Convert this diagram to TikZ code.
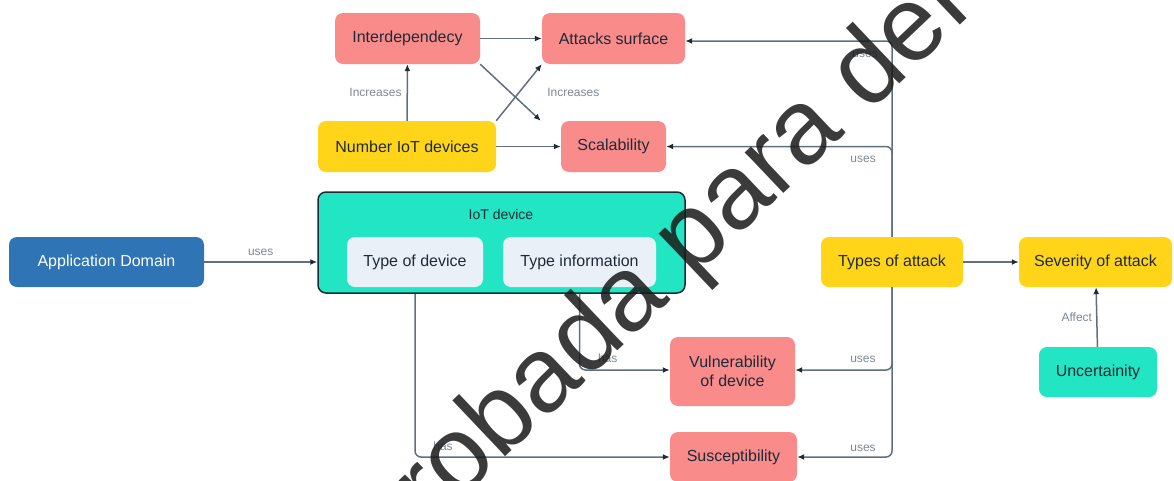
\documentclass[tikz,border=0pt]{standalone}
\usepackage{fontspec}
\setmainfont{Liberation Sans}
\usetikzlibrary{arrows.meta,calc}

\definecolor{boxred}{HTML}{F98B8B}
\definecolor{boxyellow}{HTML}{FFD419}
\definecolor{boxteal}{HTML}{22E5C4}
\definecolor{boxblue}{HTML}{2F74B5}
\definecolor{boxlight}{HTML}{EAF0F8}
\definecolor{ink}{HTML}{1E2B37}
\definecolor{linec}{HTML}{5F6F7F}
\definecolor{lblc}{HTML}{7D8893}

\tikzset{
  box/.style={rounded corners=8pt, inner sep=0pt, text=ink, align=center,
    font=\fontsize{16}{19}\selectfont},
  redbox/.style={box, fill=boxred},
  yellowbox/.style={box, fill=boxyellow},
  tealbox/.style={box, fill=boxteal},
  lightbox/.style={box, fill=boxlight},
  bluebox/.style={box, fill=boxblue, text=white!92!boxlight},
  conn/.style={draw=linec, line width=1.5pt,
    -{Latex[length=7pt,width=6pt,color=ink]}},
  elbow/.style={conn, rounded corners=6pt},
  lbl/.style={text=lblc, font=\fontsize{12}{14}\selectfont, inner sep=2pt},
  stamp/.style={text=black!90, opacity=0.85, font=\fontsize{106}{120}\selectfont,
    inner sep=0pt, anchor=base west, rotate=43.5}
}

\begin{document}
\begin{tikzpicture}[x=1pt, y=-1pt]
\useasboundingbox (0,0) rectangle (1174,480);

% IoT device container with its two parts
\node[tealbox, draw=ink, line width=1.5pt, minimum width=367pt, minimum height=101pt]
  (iot) at (501.5,242.5) {};
\node[text=ink, font=\fontsize{14}{17}\selectfont] (iotlbl) at (501,214) {IoT device};
\node[lightbox, minimum width=136pt, minimum height=50pt] (tdev) at (415,262) {Type of device};
\node[lightbox, minimum width=153pt, minimum height=50pt] (tinf) at (579.5,262) {Type information};

% upper group
\node[redbox, minimum width=145pt, minimum height=51pt] (inter) at (407.5,38.5) {Interdependecy};
\node[redbox, minimum width=143pt, minimum height=51pt] (atk) at (613.5,38.5) {Attacks surface};
\node[yellowbox, minimum width=178pt, minimum height=51pt] (num) at (407,146.5) {Number IoT devices};
\node[redbox, minimum width=105pt, minimum height=51pt] (scal) at (613.5,146.5) {Scalability};

% left and right
\node[bluebox, minimum width=195pt, minimum height=50pt] (app) at (106.5,262) {Application Domain};
\node[yellowbox, minimum width=142pt, minimum height=50pt] (toa) at (892,262) {Types of attack};
\node[yellowbox, minimum width=153pt, minimum height=50pt] (sev) at (1095.5,262) {Severity of attack};
\node[tealbox, minimum width=118pt, minimum height=50pt] (unc) at (1098,372) {Uncertainity};

% lower group
\node[redbox, minimum width=125pt, minimum height=69pt] (vul) at (732.5,371.5) {Vulnerability\\of device};
\node[redbox, minimum width=127pt, minimum height=50pt] (sus) at (733.5,457) {Susceptibility};

\coordinate (scaltip) at ([xshift=-20pt]scal.north west);

% connectors
\draw[conn] (inter) -- (atk);
\draw[conn] (num) -- node[lbl, left=3pt] (lincr1) {Increases} (inter);
\draw[conn] (num.north east) -- (atk.south west);
\draw[conn] (inter.south east) -- node[lbl, anchor=west, xshift=34pt] (lincr2) {Increases} (scaltip);
\draw[conn] (num) -- (scal);

\draw[conn] (app.east) -- node[lbl, above=4pt] (luse0) {uses} (app.east -| iot.west);

\draw[elbow] (toa.north) |- node[lbl, pos=0.565, below=7pt] (luse1) {uses} ([yshift=-2.5pt]atk.east);
\draw[elbow] (toa.north) |- node[lbl, pos=0.564, below=7pt] (luse2) {uses} (scal.east);
\draw[elbow] (toa.south) |- node[lbl, pos=0.65, above=5pt] (luse3) {uses} ([yshift=1.5pt]vul.east);
\draw[elbow] (toa.south) |- node[lbl, pos=0.653, above=3pt] (luse4) {uses} (sus.east);

\draw[conn] (toa) -- (sev);
\draw[conn] (unc) -- node[lbl, left=2pt] (laff) {Affect} (sev);

\draw[elbow] (tinf.south |- iot.south) |- node[lbl, pos=0.656, above=5pt] (lhas1) {has} ([yshift=1.5pt]vul.west);
\draw[elbow] (tdev.south |- iot.south) |- node[lbl, pos=0.555, above=4pt] (lhas2) {has} (sus.west);

% approval stamp across the sheet
\begin{scope}
  \clip (0,0) rectangle (1174,480);
  \node[stamp] (stampnode) at (338,616) {Aprobada para defensa};
\end{scope}
\end{tikzpicture}
\end{document}
